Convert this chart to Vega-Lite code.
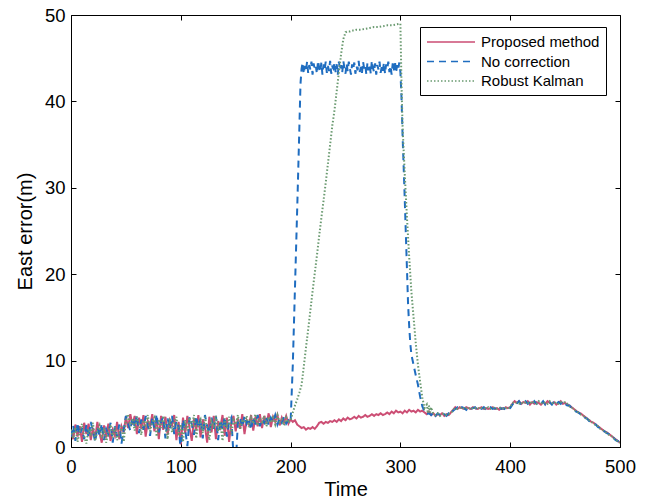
{
  "$schema": "https://vega.github.io/schema/vega-lite/v6.json",
  "width": 549,
  "height": 432,
  "autosize": {"type": "none"},
  "padding": {"left": 71, "top": 15, "right": 28, "bottom": 53},
  "background": "white",
  "config": {
    "view": {"stroke": "black", "strokeWidth": 1},
    "font": "Liberation Sans",
    "axis": {"grid": false, "domainColor": "black", "tickColor": "black", "labelColor": "black", "titleColor": "black", "labelFont": "Liberation Sans", "titleFont": "Liberation Sans", "labelFontSize": 18.5, "titleFontSize": 20, "titleFontWeight": "normal", "tickSize": -5, "labelFlush": false, "labelOverlap": false}
  },
  "data": {"values": [
    {"s":"Proposed method","t":0,"v":1.8},{"s":"Proposed method","t":2,"v":0.9},{"s":"Proposed method","t":4,"v":2.6},{"s":"Proposed method","t":6,"v":1.2},{"s":"Proposed method","t":8,"v":2.4},{"s":"Proposed method","t":10,"v":0.6},{"s":"Proposed method","t":12,"v":2.8},{"s":"Proposed method","t":14,"v":1.5},{"s":"Proposed method","t":16,"v":2.7},{"s":"Proposed method","t":18,"v":0.8},{"s":"Proposed method","t":20,"v":2.2},{"s":"Proposed method","t":22,"v":1.0},{"s":"Proposed method","t":24,"v":2.9},{"s":"Proposed method","t":26,"v":1.6},{"s":"Proposed method","t":28,"v":0.5},{"s":"Proposed method","t":30,"v":2.5},{"s":"Proposed method","t":32,"v":1.1},{"s":"Proposed method","t":34,"v":2.7},{"s":"Proposed method","t":36,"v":0.7},{"s":"Proposed method","t":38,"v":2.0},{"s":"Proposed method","t":40,"v":1.3},{"s":"Proposed method","t":42,"v":2.9},{"s":"Proposed method","t":44,"v":0.9},{"s":"Proposed method","t":46,"v":2.4},{"s":"Proposed method","t":48,"v":1.7},{"s":"Proposed method","t":50,"v":3.5},{"s":"Proposed method","t":52,"v":2.2},{"s":"Proposed method","t":54,"v":3.8},{"s":"Proposed method","t":56,"v":2.6},{"s":"Proposed method","t":58,"v":3.6},{"s":"Proposed method","t":60,"v":1.5},{"s":"Proposed method","t":62,"v":3.4},{"s":"Proposed method","t":64,"v":2.1},{"s":"Proposed method","t":66,"v":3.7},{"s":"Proposed method","t":68,"v":1.2},{"s":"Proposed method","t":70,"v":3.0},{"s":"Proposed method","t":72,"v":2.4},{"s":"Proposed method","t":74,"v":3.8},{"s":"Proposed method","t":76,"v":1.8},{"s":"Proposed method","t":78,"v":3.3},{"s":"Proposed method","t":80,"v":0.9},{"s":"Proposed method","t":82,"v":3.6},{"s":"Proposed method","t":84,"v":2.0},{"s":"Proposed method","t":86,"v":3.5},{"s":"Proposed method","t":88,"v":1.4},{"s":"Proposed method","t":90,"v":3.1},{"s":"Proposed method","t":92,"v":2.5},{"s":"Proposed method","t":94,"v":3.7},{"s":"Proposed method","t":96,"v":0.8},{"s":"Proposed method","t":98,"v":2.9},{"s":"Proposed method","t":100,"v":0.3},{"s":"Proposed method","t":102,"v":3.4},{"s":"Proposed method","t":104,"v":1.6},{"s":"Proposed method","t":106,"v":3.6},{"s":"Proposed method","t":108,"v":2.2},{"s":"Proposed method","t":110,"v":0.7},{"s":"Proposed method","t":112,"v":3.3},{"s":"Proposed method","t":114,"v":1.9},{"s":"Proposed method","t":116,"v":3.7},{"s":"Proposed method","t":118,"v":1.1},{"s":"Proposed method","t":120,"v":3.2},{"s":"Proposed method","t":122,"v":2.4},{"s":"Proposed method","t":124,"v":0.5},{"s":"Proposed method","t":126,"v":3.5},{"s":"Proposed method","t":128,"v":1.7},{"s":"Proposed method","t":130,"v":3.6},{"s":"Proposed method","t":132,"v":0.9},{"s":"Proposed method","t":134,"v":3.0},{"s":"Proposed method","t":136,"v":2.3},{"s":"Proposed method","t":138,"v":3.7},{"s":"Proposed method","t":140,"v":1.3},{"s":"Proposed method","t":142,"v":3.4},{"s":"Proposed method","t":144,"v":0.6},{"s":"Proposed method","t":146,"v":2.8},{"s":"Proposed method","t":148,"v":3.6},{"s":"Proposed method","t":150,"v":1.8},{"s":"Proposed method","t":152,"v":3.3},{"s":"Proposed method","t":154,"v":2.1},{"s":"Proposed method","t":156,"v":3.8},{"s":"Proposed method","t":158,"v":1.5},{"s":"Proposed method","t":160,"v":3.1},{"s":"Proposed method","t":162,"v":2.6},{"s":"Proposed method","t":164,"v":3.7},{"s":"Proposed method","t":166,"v":1.9},{"s":"Proposed method","t":168,"v":3.5},{"s":"Proposed method","t":170,"v":2.4},{"s":"Proposed method","t":172,"v":3.8},{"s":"Proposed method","t":174,"v":2.2},{"s":"Proposed method","t":176,"v":3.6},{"s":"Proposed method","t":178,"v":2.7},{"s":"Proposed method","t":180,"v":3.9},{"s":"Proposed method","t":182,"v":2.3},{"s":"Proposed method","t":184,"v":3.5},{"s":"Proposed method","t":186,"v":2.9},{"s":"Proposed method","t":188,"v":3.7},{"s":"Proposed method","t":190,"v":2.5},{"s":"Proposed method","t":192,"v":3.4},{"s":"Proposed method","t":194,"v":2.8},{"s":"Proposed method","t":196,"v":3.6},{"s":"Proposed method","t":198,"v":2.7},{"s":"Proposed method","t":200,"v":3.2},
    {"s":"Proposed method","t":202,"v":2.9},{"s":"Proposed method","t":204,"v":3.1},{"s":"Proposed method","t":206,"v":2.6},{"s":"Proposed method","t":208,"v":2.4},{"s":"Proposed method","t":210,"v":2.2},{"s":"Proposed method","t":212,"v":2.3},{"s":"Proposed method","t":214,"v":2.0},{"s":"Proposed method","t":216,"v":2.2},{"s":"Proposed method","t":218,"v":2.1},{"s":"Proposed method","t":220,"v":2.3},{"s":"Proposed method","t":222,"v":2.1},{"s":"Proposed method","t":224,"v":2.4},{"s":"Proposed method","t":226,"v":2.8},{"s":"Proposed method","t":228,"v":2.9},{"s":"Proposed method","t":230,"v":2.7},{"s":"Proposed method","t":232,"v":2.9},{"s":"Proposed method","t":234,"v":2.8},{"s":"Proposed method","t":236,"v":3.0},{"s":"Proposed method","t":238,"v":2.9},{"s":"Proposed method","t":240,"v":3.1},{"s":"Proposed method","t":242,"v":2.9},{"s":"Proposed method","t":244,"v":3.2},{"s":"Proposed method","t":246,"v":3.0},{"s":"Proposed method","t":248,"v":3.3},{"s":"Proposed method","t":250,"v":3.1},{"s":"Proposed method","t":252,"v":3.4},{"s":"Proposed method","t":254,"v":3.2},{"s":"Proposed method","t":256,"v":3.3},{"s":"Proposed method","t":258,"v":3.5},{"s":"Proposed method","t":260,"v":3.3},{"s":"Proposed method","t":262,"v":3.6},{"s":"Proposed method","t":264,"v":3.4},{"s":"Proposed method","t":266,"v":3.5},{"s":"Proposed method","t":268,"v":3.7},{"s":"Proposed method","t":270,"v":3.5},{"s":"Proposed method","t":272,"v":3.6},{"s":"Proposed method","t":274,"v":3.8},{"s":"Proposed method","t":276,"v":3.6},{"s":"Proposed method","t":278,"v":3.8},{"s":"Proposed method","t":280,"v":3.7},{"s":"Proposed method","t":282,"v":3.9},{"s":"Proposed method","t":284,"v":3.7},{"s":"Proposed method","t":286,"v":3.8},{"s":"Proposed method","t":288,"v":4.0},{"s":"Proposed method","t":290,"v":3.8},{"s":"Proposed method","t":292,"v":4.1},{"s":"Proposed method","t":294,"v":3.9},{"s":"Proposed method","t":296,"v":4.2},{"s":"Proposed method","t":298,"v":4.0},{"s":"Proposed method","t":300,"v":4.1},{"s":"Proposed method","t":302,"v":3.9},{"s":"Proposed method","t":304,"v":4.2},{"s":"Proposed method","t":306,"v":4.0},{"s":"Proposed method","t":308,"v":4.3},{"s":"Proposed method","t":310,"v":4.1},{"s":"Proposed method","t":312,"v":4.2},{"s":"Proposed method","t":314,"v":4.0},{"s":"Proposed method","t":316,"v":4.3},{"s":"Proposed method","t":318,"v":4.1},{"s":"Proposed method","t":320,"v":4.2},{"s":"Proposed method","t":322,"v":4.0},{"s":"Proposed method","t":324,"v":3.8},
    {"s":"Proposed method","t":326,"v":4.1},{"s":"Proposed method","t":328,"v":3.7},{"s":"Proposed method","t":330,"v":3.9},{"s":"Proposed method","t":332,"v":3.6},{"s":"Proposed method","t":334,"v":3.8},{"s":"Proposed method","t":336,"v":3.7},{"s":"Proposed method","t":338,"v":3.9},{"s":"Proposed method","t":340,"v":3.6},{"s":"Proposed method","t":342,"v":3.8},{"s":"Proposed method","t":344,"v":3.7},{"s":"Proposed method","t":346,"v":4.0},{"s":"Proposed method","t":348,"v":4.3},{"s":"Proposed method","t":350,"v":4.6},{"s":"Proposed method","t":352,"v":4.4},{"s":"Proposed method","t":354,"v":4.6},{"s":"Proposed method","t":356,"v":4.5},{"s":"Proposed method","t":358,"v":4.4},{"s":"Proposed method","t":360,"v":4.6},{"s":"Proposed method","t":362,"v":4.5},{"s":"Proposed method","t":364,"v":4.4},{"s":"Proposed method","t":366,"v":4.6},{"s":"Proposed method","t":368,"v":4.5},{"s":"Proposed method","t":370,"v":4.4},{"s":"Proposed method","t":372,"v":4.5},{"s":"Proposed method","t":374,"v":4.6},{"s":"Proposed method","t":376,"v":4.4},{"s":"Proposed method","t":378,"v":4.5},{"s":"Proposed method","t":380,"v":4.4},{"s":"Proposed method","t":382,"v":4.5},{"s":"Proposed method","t":384,"v":4.6},{"s":"Proposed method","t":386,"v":4.4},{"s":"Proposed method","t":388,"v":4.5},{"s":"Proposed method","t":390,"v":4.3},{"s":"Proposed method","t":392,"v":4.5},{"s":"Proposed method","t":394,"v":4.4},{"s":"Proposed method","t":396,"v":4.6},{"s":"Proposed method","t":398,"v":4.5},{"s":"Proposed method","t":400,"v":4.6},{"s":"Proposed method","t":402,"v":5.0},{"s":"Proposed method","t":404,"v":5.3},{"s":"Proposed method","t":406,"v":5.1},{"s":"Proposed method","t":408,"v":5.3},{"s":"Proposed method","t":410,"v":5.0},{"s":"Proposed method","t":412,"v":5.2},{"s":"Proposed method","t":414,"v":5.1},{"s":"Proposed method","t":416,"v":5.3},{"s":"Proposed method","t":418,"v":4.9},{"s":"Proposed method","t":420,"v":5.2},{"s":"Proposed method","t":422,"v":5.0},{"s":"Proposed method","t":424,"v":5.2},{"s":"Proposed method","t":426,"v":5.1},{"s":"Proposed method","t":428,"v":4.9},{"s":"Proposed method","t":430,"v":5.2},{"s":"Proposed method","t":432,"v":5.0},{"s":"Proposed method","t":434,"v":5.3},{"s":"Proposed method","t":436,"v":5.1},{"s":"Proposed method","t":438,"v":5.0},{"s":"Proposed method","t":440,"v":5.2},{"s":"Proposed method","t":442,"v":4.9},{"s":"Proposed method","t":444,"v":5.1},{"s":"Proposed method","t":446,"v":5.3},{"s":"Proposed method","t":448,"v":5.0},{"s":"Proposed method","t":450,"v":5.1},{"s":"Proposed method","t":452,"v":4.9},{"s":"Proposed method","t":454,"v":4.8},{"s":"Proposed method","t":456,"v":4.6},{"s":"Proposed method","t":458,"v":4.4},{"s":"Proposed method","t":460,"v":4.2},{"s":"Proposed method","t":462,"v":4.0},{"s":"Proposed method","t":464,"v":3.9},{"s":"Proposed method","t":466,"v":3.7},{"s":"Proposed method","t":468,"v":3.5},{"s":"Proposed method","t":470,"v":3.3},{"s":"Proposed method","t":472,"v":3.1},{"s":"Proposed method","t":474,"v":2.9},{"s":"Proposed method","t":476,"v":2.8},{"s":"Proposed method","t":478,"v":2.6},{"s":"Proposed method","t":480,"v":2.4},{"s":"Proposed method","t":482,"v":2.2},{"s":"Proposed method","t":484,"v":2.0},{"s":"Proposed method","t":486,"v":1.8},{"s":"Proposed method","t":488,"v":1.7},{"s":"Proposed method","t":490,"v":1.5},{"s":"Proposed method","t":492,"v":1.3},{"s":"Proposed method","t":494,"v":1.1},{"s":"Proposed method","t":496,"v":0.9},{"s":"Proposed method","t":498,"v":0.7},{"s":"Proposed method","t":500,"v":0.5},

    {"s":"No correction","t":0,"v":1.2},{"s":"No correction","t":2,"v":2.5},{"s":"No correction","t":4,"v":0.7},{"s":"No correction","t":6,"v":2.8},{"s":"No correction","t":8,"v":1.4},{"s":"No correction","t":10,"v":2.2},{"s":"No correction","t":12,"v":0.9},{"s":"No correction","t":14,"v":2.6},{"s":"No correction","t":16,"v":1.1},{"s":"No correction","t":18,"v":2.9},{"s":"No correction","t":20,"v":1.8},{"s":"No correction","t":22,"v":0.6},{"s":"No correction","t":24,"v":2.3},{"s":"No correction","t":26,"v":1.3},{"s":"No correction","t":28,"v":2.7},{"s":"No correction","t":30,"v":0.8},{"s":"No correction","t":32,"v":2.1},{"s":"No correction","t":34,"v":1.5},{"s":"No correction","t":36,"v":2.8},{"s":"No correction","t":38,"v":0.5},{"s":"No correction","t":40,"v":2.4},{"s":"No correction","t":42,"v":1.2},{"s":"No correction","t":44,"v":2.6},{"s":"No correction","t":46,"v":0.4},{"s":"No correction","t":48,"v":2.0},{"s":"No correction","t":50,"v":3.6},{"s":"No correction","t":52,"v":2.7},{"s":"No correction","t":54,"v":1.9},{"s":"No correction","t":56,"v":3.5},{"s":"No correction","t":58,"v":2.3},{"s":"No correction","t":60,"v":3.7},{"s":"No correction","t":62,"v":1.6},{"s":"No correction","t":64,"v":3.2},{"s":"No correction","t":66,"v":2.0},{"s":"No correction","t":68,"v":3.6},{"s":"No correction","t":70,"v":2.5},{"s":"No correction","t":72,"v":1.3},{"s":"No correction","t":74,"v":3.4},{"s":"No correction","t":76,"v":2.2},{"s":"No correction","t":78,"v":3.8},{"s":"No correction","t":80,"v":1.7},{"s":"No correction","t":82,"v":2.9},{"s":"No correction","t":84,"v":3.5},{"s":"No correction","t":86,"v":1.0},{"s":"No correction","t":88,"v":3.3},{"s":"No correction","t":90,"v":2.1},{"s":"No correction","t":92,"v":3.6},{"s":"No correction","t":94,"v":1.5},{"s":"No correction","t":96,"v":3.0},{"s":"No correction","t":98,"v":2.4},{"s":"No correction","t":100,"v":-0.5},{"s":"No correction","t":102,"v":3.2},{"s":"No correction","t":104,"v":2.0},{"s":"No correction","t":106,"v":0.1},{"s":"No correction","t":108,"v":3.5},{"s":"No correction","t":110,"v":2.6},{"s":"No correction","t":112,"v":1.4},{"s":"No correction","t":114,"v":3.6},{"s":"No correction","t":116,"v":2.2},{"s":"No correction","t":118,"v":3.3},{"s":"No correction","t":120,"v":1.0},{"s":"No correction","t":122,"v":3.7},{"s":"No correction","t":124,"v":2.4},{"s":"No correction","t":126,"v":1.6},{"s":"No correction","t":128,"v":3.4},{"s":"No correction","t":130,"v":2.1},{"s":"No correction","t":132,"v":3.6},{"s":"No correction","t":134,"v":0.8},{"s":"No correction","t":136,"v":3.1},{"s":"No correction","t":138,"v":2.0},{"s":"No correction","t":140,"v":3.5},{"s":"No correction","t":142,"v":1.2},{"s":"No correction","t":144,"v":2.9},{"s":"No correction","t":146,"v":3.4},{"s":"No correction","t":148,"v":-1.0},{"s":"No correction","t":150,"v":-2.0},{"s":"No correction","t":152,"v":2.8},{"s":"No correction","t":154,"v":3.4},{"s":"No correction","t":156,"v":2.3},{"s":"No correction","t":158,"v":3.6},{"s":"No correction","t":160,"v":2.7},{"s":"No correction","t":162,"v":3.3},{"s":"No correction","t":164,"v":2.0},{"s":"No correction","t":166,"v":3.5},{"s":"No correction","t":168,"v":2.6},{"s":"No correction","t":170,"v":3.7},{"s":"No correction","t":172,"v":2.4},{"s":"No correction","t":174,"v":3.2},{"s":"No correction","t":176,"v":2.8},{"s":"No correction","t":178,"v":3.6},{"s":"No correction","t":180,"v":2.5},{"s":"No correction","t":182,"v":3.4},{"s":"No correction","t":184,"v":2.9},{"s":"No correction","t":186,"v":3.7},{"s":"No correction","t":188,"v":2.6},{"s":"No correction","t":190,"v":3.3},{"s":"No correction","t":192,"v":2.8},{"s":"No correction","t":194,"v":3.5},{"s":"No correction","t":196,"v":2.7},{"s":"No correction","t":198,"v":3.1},{"s":"No correction","t":200,"v":2.9},
    {"s":"No correction","t":202,"v":9.5},{"s":"No correction","t":204,"v":18.5},{"s":"No correction","t":206,"v":27.5},{"s":"No correction","t":208,"v":37},{"s":"No correction","t":209,"v":42},
    {"s":"No correction","t":210,"v":43.8},{"s":"No correction","t":211,"v":44.5},{"s":"No correction","t":212,"v":43.2},{"s":"No correction","t":213,"v":44.1},{"s":"No correction","t":214,"v":43.5},{"s":"No correction","t":215,"v":44.6},{"s":"No correction","t":216,"v":43.3},{"s":"No correction","t":217,"v":44.2},{"s":"No correction","t":218,"v":43.7},{"s":"No correction","t":219,"v":44.6},{"s":"No correction","t":220,"v":43.1},{"s":"No correction","t":221,"v":44.4},{"s":"No correction","t":222,"v":43.6},{"s":"No correction","t":223,"v":44.0},{"s":"No correction","t":224,"v":43.2},{"s":"No correction","t":225,"v":44.7},{"s":"No correction","t":226,"v":43.9},{"s":"No correction","t":227,"v":43.4},{"s":"No correction","t":228,"v":44.5},{"s":"No correction","t":229,"v":43.1},{"s":"No correction","t":230,"v":44.3},{"s":"No correction","t":231,"v":43.7},{"s":"No correction","t":232,"v":44.6},{"s":"No correction","t":233,"v":43.3},{"s":"No correction","t":234,"v":44.1},{"s":"No correction","t":235,"v":43.5},{"s":"No correction","t":236,"v":44.7},{"s":"No correction","t":237,"v":43.2},{"s":"No correction","t":238,"v":44.0},{"s":"No correction","t":239,"v":43.8},{"s":"No correction","t":240,"v":44.5},{"s":"No correction","t":241,"v":43.4},{"s":"No correction","t":242,"v":44.3},{"s":"No correction","t":243,"v":43.1},{"s":"No correction","t":244,"v":44.6},{"s":"No correction","t":245,"v":43.6},{"s":"No correction","t":246,"v":44.2},{"s":"No correction","t":247,"v":43.3},{"s":"No correction","t":248,"v":44.7},{"s":"No correction","t":249,"v":43.9},{"s":"No correction","t":250,"v":43.2},{"s":"No correction","t":251,"v":44.4},{"s":"No correction","t":252,"v":43.5},{"s":"No correction","t":253,"v":44.6},{"s":"No correction","t":254,"v":43.8},{"s":"No correction","t":255,"v":43.1},{"s":"No correction","t":256,"v":44.3},{"s":"No correction","t":257,"v":43.7},{"s":"No correction","t":258,"v":44.5},{"s":"No correction","t":259,"v":43.2},{"s":"No correction","t":260,"v":44.1},{"s":"No correction","t":261,"v":43.6},{"s":"No correction","t":262,"v":44.7},{"s":"No correction","t":263,"v":43.4},{"s":"No correction","t":264,"v":44.0},{"s":"No correction","t":265,"v":43.3},{"s":"No correction","t":266,"v":44.6},{"s":"No correction","t":267,"v":43.8},{"s":"No correction","t":268,"v":44.2},{"s":"No correction","t":269,"v":43.1},{"s":"No correction","t":270,"v":44.5},{"s":"No correction","t":271,"v":43.6},{"s":"No correction","t":272,"v":44.3},{"s":"No correction","t":273,"v":43.2},{"s":"No correction","t":274,"v":44.7},{"s":"No correction","t":275,"v":43.9},{"s":"No correction","t":276,"v":43.4},{"s":"No correction","t":277,"v":44.4},{"s":"No correction","t":278,"v":43.1},{"s":"No correction","t":279,"v":44.2},{"s":"No correction","t":280,"v":43.7},{"s":"No correction","t":281,"v":44.6},{"s":"No correction","t":282,"v":43.3},{"s":"No correction","t":283,"v":44.0},{"s":"No correction","t":284,"v":43.5},{"s":"No correction","t":285,"v":44.5},{"s":"No correction","t":286,"v":43.2},{"s":"No correction","t":287,"v":44.3},{"s":"No correction","t":288,"v":43.8},{"s":"No correction","t":289,"v":44.6},{"s":"No correction","t":290,"v":43.4},{"s":"No correction","t":291,"v":44.1},{"s":"No correction","t":292,"v":43.1},{"s":"No correction","t":293,"v":44.4},{"s":"No correction","t":294,"v":43.6},{"s":"No correction","t":295,"v":44.7},{"s":"No correction","t":296,"v":43.3},{"s":"No correction","t":297,"v":44.2},{"s":"No correction","t":298,"v":43.7},{"s":"No correction","t":299,"v":44.5},{"s":"No correction","t":300,"v":43.4},
    {"s":"No correction","t":301,"v":40.5},{"s":"No correction","t":302,"v":36},{"s":"No correction","t":303,"v":32.3},{"s":"No correction","t":304,"v":28.5},{"s":"No correction","t":305,"v":24.5},{"s":"No correction","t":306,"v":20.5},{"s":"No correction","t":307,"v":16.5},{"s":"No correction","t":308,"v":14},{"s":"No correction","t":309,"v":12},{"s":"No correction","t":310,"v":10.7},{"s":"No correction","t":312,"v":9.5},{"s":"No correction","t":314,"v":8.3},{"s":"No correction","t":316,"v":7.2},{"s":"No correction","t":318,"v":5.8},{"s":"No correction","t":320,"v":4.7},{"s":"No correction","t":322,"v":4.1},{"s":"No correction","t":324,"v":3.8},
    {"s":"No correction","t":326,"v":3.9},{"s":"No correction","t":328,"v":3.7},{"s":"No correction","t":330,"v":4.0},{"s":"No correction","t":332,"v":3.6},{"s":"No correction","t":334,"v":3.9},{"s":"No correction","t":336,"v":3.7},{"s":"No correction","t":338,"v":4.0},{"s":"No correction","t":340,"v":3.8},{"s":"No correction","t":342,"v":3.6},{"s":"No correction","t":344,"v":3.9},{"s":"No correction","t":346,"v":3.8},{"s":"No correction","t":348,"v":4.2},{"s":"No correction","t":350,"v":4.4},{"s":"No correction","t":352,"v":4.6},{"s":"No correction","t":354,"v":4.4},{"s":"No correction","t":356,"v":4.6},{"s":"No correction","t":358,"v":4.5},{"s":"No correction","t":360,"v":4.3},{"s":"No correction","t":362,"v":4.6},{"s":"No correction","t":364,"v":4.4},{"s":"No correction","t":366,"v":4.5},{"s":"No correction","t":368,"v":4.6},{"s":"No correction","t":370,"v":4.3},{"s":"No correction","t":372,"v":4.5},{"s":"No correction","t":374,"v":4.4},{"s":"No correction","t":376,"v":4.6},{"s":"No correction","t":378,"v":4.3},{"s":"No correction","t":380,"v":4.5},{"s":"No correction","t":382,"v":4.6},{"s":"No correction","t":384,"v":4.4},{"s":"No correction","t":386,"v":4.5},{"s":"No correction","t":388,"v":4.3},{"s":"No correction","t":390,"v":4.6},{"s":"No correction","t":392,"v":4.4},{"s":"No correction","t":394,"v":4.5},{"s":"No correction","t":396,"v":4.3},{"s":"No correction","t":398,"v":4.6},{"s":"No correction","t":400,"v":4.5},{"s":"No correction","t":402,"v":4.9},{"s":"No correction","t":404,"v":5.2},{"s":"No correction","t":406,"v":5.0},{"s":"No correction","t":408,"v":5.3},{"s":"No correction","t":410,"v":4.9},{"s":"No correction","t":412,"v":5.1},{"s":"No correction","t":414,"v":5.3},{"s":"No correction","t":416,"v":5.0},{"s":"No correction","t":418,"v":5.2},{"s":"No correction","t":420,"v":4.9},{"s":"No correction","t":422,"v":5.3},{"s":"No correction","t":424,"v":5.0},{"s":"No correction","t":426,"v":5.2},{"s":"No correction","t":428,"v":5.0},{"s":"No correction","t":430,"v":5.3},{"s":"No correction","t":432,"v":4.9},{"s":"No correction","t":434,"v":5.1},{"s":"No correction","t":436,"v":5.2},{"s":"No correction","t":438,"v":4.9},{"s":"No correction","t":440,"v":5.3},{"s":"No correction","t":442,"v":5.0},{"s":"No correction","t":444,"v":5.2},{"s":"No correction","t":446,"v":5.0},{"s":"No correction","t":448,"v":5.3},{"s":"No correction","t":450,"v":5.0},{"s":"No correction","t":452,"v":4.8},{"s":"No correction","t":454,"v":4.8},{"s":"No correction","t":456,"v":4.5},{"s":"No correction","t":458,"v":4.4},{"s":"No correction","t":460,"v":4.1},{"s":"No correction","t":462,"v":4.0},{"s":"No correction","t":464,"v":3.8},{"s":"No correction","t":466,"v":3.7},{"s":"No correction","t":468,"v":3.4},{"s":"No correction","t":470,"v":3.3},{"s":"No correction","t":472,"v":3.0},{"s":"No correction","t":474,"v":2.9},{"s":"No correction","t":476,"v":2.7},{"s":"No correction","t":478,"v":2.6},{"s":"No correction","t":480,"v":2.3},{"s":"No correction","t":482,"v":2.2},{"s":"No correction","t":484,"v":1.9},{"s":"No correction","t":486,"v":1.8},{"s":"No correction","t":488,"v":1.6},{"s":"No correction","t":490,"v":1.5},{"s":"No correction","t":492,"v":1.2},{"s":"No correction","t":494,"v":1.1},{"s":"No correction","t":496,"v":0.8},{"s":"No correction","t":498,"v":0.7},{"s":"No correction","t":500,"v":0.4},

    {"s":"Robust Kalman","t":0,"v":2.0},{"s":"Robust Kalman","t":2,"v":1.0},{"s":"Robust Kalman","t":4,"v":2.3},{"s":"Robust Kalman","t":6,"v":0.6},{"s":"Robust Kalman","t":8,"v":1.8},{"s":"Robust Kalman","t":10,"v":2.7},{"s":"Robust Kalman","t":12,"v":1.2},{"s":"Robust Kalman","t":14,"v":0.4},{"s":"Robust Kalman","t":16,"v":2.1},{"s":"Robust Kalman","t":18,"v":1.5},{"s":"Robust Kalman","t":20,"v":2.8},{"s":"Robust Kalman","t":22,"v":0.7},{"s":"Robust Kalman","t":24,"v":1.9},{"s":"Robust Kalman","t":26,"v":2.5},{"s":"Robust Kalman","t":28,"v":1.0},{"s":"Robust Kalman","t":30,"v":2.2},{"s":"Robust Kalman","t":32,"v":0.5},{"s":"Robust Kalman","t":34,"v":1.7},{"s":"Robust Kalman","t":36,"v":2.6},{"s":"Robust Kalman","t":38,"v":1.1},{"s":"Robust Kalman","t":40,"v":2.3},{"s":"Robust Kalman","t":42,"v":0.8},{"s":"Robust Kalman","t":44,"v":1.6},{"s":"Robust Kalman","t":46,"v":2.4},{"s":"Robust Kalman","t":48,"v":0.6},{"s":"Robust Kalman","t":50,"v":3.0},{"s":"Robust Kalman","t":52,"v":3.8},{"s":"Robust Kalman","t":54,"v":2.4},{"s":"Robust Kalman","t":56,"v":3.3},{"s":"Robust Kalman","t":58,"v":1.9},{"s":"Robust Kalman","t":60,"v":3.5},{"s":"Robust Kalman","t":62,"v":2.7},{"s":"Robust Kalman","t":64,"v":1.4},{"s":"Robust Kalman","t":66,"v":3.1},{"s":"Robust Kalman","t":68,"v":2.5},{"s":"Robust Kalman","t":70,"v":3.7},{"s":"Robust Kalman","t":72,"v":1.8},{"s":"Robust Kalman","t":74,"v":2.9},{"s":"Robust Kalman","t":76,"v":3.4},{"s":"Robust Kalman","t":78,"v":1.2},{"s":"Robust Kalman","t":80,"v":3.2},{"s":"Robust Kalman","t":82,"v":2.2},{"s":"Robust Kalman","t":84,"v":3.6},{"s":"Robust Kalman","t":86,"v":2.4},{"s":"Robust Kalman","t":88,"v":0.9},{"s":"Robust Kalman","t":90,"v":3.3},{"s":"Robust Kalman","t":92,"v":1.7},{"s":"Robust Kalman","t":94,"v":2.8},{"s":"Robust Kalman","t":96,"v":3.5},{"s":"Robust Kalman","t":98,"v":1.3},{"s":"Robust Kalman","t":100,"v":2.6},{"s":"Robust Kalman","t":102,"v":0.6},{"s":"Robust Kalman","t":104,"v":3.1},{"s":"Robust Kalman","t":106,"v":1.9},{"s":"Robust Kalman","t":108,"v":3.4},{"s":"Robust Kalman","t":110,"v":2.3},{"s":"Robust Kalman","t":112,"v":3.7},{"s":"Robust Kalman","t":114,"v":1.0},{"s":"Robust Kalman","t":116,"v":2.7},{"s":"Robust Kalman","t":118,"v":3.2},{"s":"Robust Kalman","t":120,"v":1.6},{"s":"Robust Kalman","t":122,"v":3.5},{"s":"Robust Kalman","t":124,"v":2.1},{"s":"Robust Kalman","t":126,"v":0.8},{"s":"Robust Kalman","t":128,"v":3.0},{"s":"Robust Kalman","t":130,"v":2.4},{"s":"Robust Kalman","t":132,"v":3.6},{"s":"Robust Kalman","t":134,"v":1.8},{"s":"Robust Kalman","t":136,"v":2.9},{"s":"Robust Kalman","t":138,"v":0.7},{"s":"Robust Kalman","t":140,"v":3.3},{"s":"Robust Kalman","t":142,"v":2.2},{"s":"Robust Kalman","t":144,"v":3.5},{"s":"Robust Kalman","t":146,"v":1.5},{"s":"Robust Kalman","t":148,"v":3.1},{"s":"Robust Kalman","t":150,"v":2.6},{"s":"Robust Kalman","t":152,"v":3.7},{"s":"Robust Kalman","t":154,"v":2.0},{"s":"Robust Kalman","t":156,"v":3.2},{"s":"Robust Kalman","t":158,"v":2.8},{"s":"Robust Kalman","t":160,"v":3.6},{"s":"Robust Kalman","t":162,"v":2.3},{"s":"Robust Kalman","t":164,"v":3.4},{"s":"Robust Kalman","t":166,"v":2.7},{"s":"Robust Kalman","t":168,"v":3.8},{"s":"Robust Kalman","t":170,"v":2.5},{"s":"Robust Kalman","t":172,"v":3.3},{"s":"Robust Kalman","t":174,"v":2.9},{"s":"Robust Kalman","t":176,"v":3.6},{"s":"Robust Kalman","t":178,"v":2.4},{"s":"Robust Kalman","t":180,"v":3.5},{"s":"Robust Kalman","t":182,"v":2.8},{"s":"Robust Kalman","t":184,"v":3.4},{"s":"Robust Kalman","t":186,"v":2.6},{"s":"Robust Kalman","t":188,"v":3.7},{"s":"Robust Kalman","t":190,"v":2.9},{"s":"Robust Kalman","t":192,"v":3.2},{"s":"Robust Kalman","t":194,"v":2.5},{"s":"Robust Kalman","t":196,"v":3.4},{"s":"Robust Kalman","t":198,"v":2.8},{"s":"Robust Kalman","t":200,"v":3.1},
    {"s":"Robust Kalman","t":202,"v":4.0},{"s":"Robust Kalman","t":204,"v":4.8},{"s":"Robust Kalman","t":206,"v":5.5},{"s":"Robust Kalman","t":208,"v":6.3},{"s":"Robust Kalman","t":210,"v":7.2},{"s":"Robust Kalman","t":212,"v":9.3},{"s":"Robust Kalman","t":214,"v":11.5},{"s":"Robust Kalman","t":216,"v":13.6},{"s":"Robust Kalman","t":218,"v":15.8},{"s":"Robust Kalman","t":220,"v":18},{"s":"Robust Kalman","t":222,"v":20.1},{"s":"Robust Kalman","t":224,"v":22.2},{"s":"Robust Kalman","t":226,"v":24.4},{"s":"Robust Kalman","t":228,"v":26.5},{"s":"Robust Kalman","t":230,"v":28.5},{"s":"Robust Kalman","t":232,"v":30.6},{"s":"Robust Kalman","t":234,"v":32.8},{"s":"Robust Kalman","t":236,"v":35},{"s":"Robust Kalman","t":238,"v":37.2},{"s":"Robust Kalman","t":240,"v":39},{"s":"Robust Kalman","t":242,"v":41.2},{"s":"Robust Kalman","t":244,"v":43.4},{"s":"Robust Kalman","t":246,"v":45.5},{"s":"Robust Kalman","t":248,"v":47.2},{"s":"Robust Kalman","t":250,"v":48.0},{"s":"Robust Kalman","t":252,"v":48.1},{"s":"Robust Kalman","t":254,"v":48.1},{"s":"Robust Kalman","t":256,"v":48.2},{"s":"Robust Kalman","t":258,"v":48.2},{"s":"Robust Kalman","t":260,"v":48.3},{"s":"Robust Kalman","t":264,"v":48.3},{"s":"Robust Kalman","t":268,"v":48.4},{"s":"Robust Kalman","t":272,"v":48.5},{"s":"Robust Kalman","t":276,"v":48.6},{"s":"Robust Kalman","t":280,"v":48.6},{"s":"Robust Kalman","t":284,"v":48.7},{"s":"Robust Kalman","t":288,"v":48.8},{"s":"Robust Kalman","t":292,"v":48.8},{"s":"Robust Kalman","t":296,"v":48.9},{"s":"Robust Kalman","t":300,"v":49.0},
    {"s":"Robust Kalman","t":301,"v":42},{"s":"Robust Kalman","t":302,"v":37},{"s":"Robust Kalman","t":304,"v":31.5},{"s":"Robust Kalman","t":306,"v":26.5},{"s":"Robust Kalman","t":308,"v":22},{"s":"Robust Kalman","t":310,"v":18},{"s":"Robust Kalman","t":312,"v":15},{"s":"Robust Kalman","t":314,"v":12},{"s":"Robust Kalman","t":316,"v":9.5},{"s":"Robust Kalman","t":318,"v":7.5},{"s":"Robust Kalman","t":320,"v":5.7},{"s":"Robust Kalman","t":322,"v":4.5},{"s":"Robust Kalman","t":324,"v":4.9},{"s":"Robust Kalman","t":325,"v":3.9},{"s":"Robust Kalman","t":326,"v":4.8},{"s":"Robust Kalman","t":327,"v":4.0},{"s":"Robust Kalman","t":328,"v":4.6},
    {"s":"Robust Kalman","t":330,"v":3.8},{"s":"Robust Kalman","t":332,"v":3.7},{"s":"Robust Kalman","t":334,"v":3.9},{"s":"Robust Kalman","t":336,"v":3.6},{"s":"Robust Kalman","t":338,"v":3.8},{"s":"Robust Kalman","t":340,"v":3.9},{"s":"Robust Kalman","t":342,"v":3.7},{"s":"Robust Kalman","t":344,"v":3.8},{"s":"Robust Kalman","t":346,"v":3.9},{"s":"Robust Kalman","t":348,"v":4.3},{"s":"Robust Kalman","t":350,"v":4.5},{"s":"Robust Kalman","t":352,"v":4.4},{"s":"Robust Kalman","t":354,"v":4.5},{"s":"Robust Kalman","t":356,"v":4.6},{"s":"Robust Kalman","t":358,"v":4.4},{"s":"Robust Kalman","t":360,"v":4.5},{"s":"Robust Kalman","t":362,"v":4.4},{"s":"Robust Kalman","t":364,"v":4.6},{"s":"Robust Kalman","t":366,"v":4.4},{"s":"Robust Kalman","t":368,"v":4.5},{"s":"Robust Kalman","t":370,"v":4.6},{"s":"Robust Kalman","t":372,"v":4.4},{"s":"Robust Kalman","t":374,"v":4.5},{"s":"Robust Kalman","t":376,"v":4.5},{"s":"Robust Kalman","t":378,"v":4.4},{"s":"Robust Kalman","t":380,"v":4.6},{"s":"Robust Kalman","t":382,"v":4.4},{"s":"Robust Kalman","t":384,"v":4.5},{"s":"Robust Kalman","t":386,"v":4.6},{"s":"Robust Kalman","t":388,"v":4.4},{"s":"Robust Kalman","t":390,"v":4.5},{"s":"Robust Kalman","t":392,"v":4.6},{"s":"Robust Kalman","t":394,"v":4.4},{"s":"Robust Kalman","t":396,"v":4.5},{"s":"Robust Kalman","t":398,"v":4.4},{"s":"Robust Kalman","t":400,"v":4.6},{"s":"Robust Kalman","t":402,"v":5.1},{"s":"Robust Kalman","t":404,"v":5.2},{"s":"Robust Kalman","t":406,"v":5.1},{"s":"Robust Kalman","t":408,"v":5.0},{"s":"Robust Kalman","t":410,"v":5.2},{"s":"Robust Kalman","t":412,"v":5.0},{"s":"Robust Kalman","t":414,"v":5.2},{"s":"Robust Kalman","t":416,"v":5.1},{"s":"Robust Kalman","t":418,"v":5.0},{"s":"Robust Kalman","t":420,"v":5.3},{"s":"Robust Kalman","t":422,"v":5.1},{"s":"Robust Kalman","t":424,"v":5.0},{"s":"Robust Kalman","t":426,"v":5.3},{"s":"Robust Kalman","t":428,"v":5.1},{"s":"Robust Kalman","t":430,"v":5.0},{"s":"Robust Kalman","t":432,"v":5.2},{"s":"Robust Kalman","t":434,"v":5.0},{"s":"Robust Kalman","t":436,"v":5.3},{"s":"Robust Kalman","t":438,"v":5.1},{"s":"Robust Kalman","t":440,"v":5.0},{"s":"Robust Kalman","t":442,"v":5.2},{"s":"Robust Kalman","t":444,"v":5.0},{"s":"Robust Kalman","t":446,"v":5.2},{"s":"Robust Kalman","t":448,"v":5.1},{"s":"Robust Kalman","t":450,"v":5.2},{"s":"Robust Kalman","t":452,"v":5.0},{"s":"Robust Kalman","t":454,"v":4.7},{"s":"Robust Kalman","t":456,"v":4.6},{"s":"Robust Kalman","t":458,"v":4.3},{"s":"Robust Kalman","t":460,"v":4.2},{"s":"Robust Kalman","t":462,"v":4.0},{"s":"Robust Kalman","t":464,"v":3.8},{"s":"Robust Kalman","t":466,"v":3.6},{"s":"Robust Kalman","t":468,"v":3.5},{"s":"Robust Kalman","t":470,"v":3.2},{"s":"Robust Kalman","t":472,"v":3.1},{"s":"Robust Kalman","t":474,"v":2.9},{"s":"Robust Kalman","t":476,"v":2.7},{"s":"Robust Kalman","t":478,"v":2.5},{"s":"Robust Kalman","t":480,"v":2.4},{"s":"Robust Kalman","t":482,"v":2.1},{"s":"Robust Kalman","t":484,"v":2.0},{"s":"Robust Kalman","t":486,"v":1.8},{"s":"Robust Kalman","t":488,"v":1.6},{"s":"Robust Kalman","t":490,"v":1.4},{"s":"Robust Kalman","t":492,"v":1.3},{"s":"Robust Kalman","t":494,"v":1.0},{"s":"Robust Kalman","t":496,"v":0.9},{"s":"Robust Kalman","t":498,"v":0.6},{"s":"Robust Kalman","t":500,"v":0.5}
  ]},
  "layer": [
    {
      "mark": {"type": "line", "clip": true, "strokeWidth": 2},
      "encoding": {
        "x": {"field": "t", "type": "quantitative", "title": "Time", "scale": {"domain": [0, 500], "nice": false}, "axis": {"values": [0, 100, 200, 300, 400, 500], "labelPadding": 15, "titlePadding": 4, "domain": false}},
        "y": {"field": "v", "type": "quantitative", "title": "East error(m)", "scale": {"domain": [0, 50], "nice": false}, "axis": {"values": [0, 10, 20, 30, 40, 50], "labelPadding": 11, "titlePadding": 9, "domain": false}},
        "color": {"field": "s", "type": "nominal", "sort": null, "scale": {"domain": ["Proposed method", "No correction", "Robust Kalman"], "range": ["#CC4E74", "#1F6DC0", "#6A9A70"]},
          "legend": {"title": null, "orient": "none", "legendX": 349, "legendY": 12, "fillColor": "white", "strokeColor": "black", "padding": 6, "symbolType": "M-1,0H5", "symbolSize": 256, "symbolStrokeWidth": 1.6, "labelFontSize": 15, "labelFont": "Liberation Sans", "labelColor": "black", "rowPadding": 2.5, "labelOffset": 37}},
        "strokeDash": {"field": "s", "type": "nominal", "sort": null, "scale": {"domain": ["Proposed method", "No correction", "Robust Kalman"], "range": [[1, 0], [7, 5], [1.5, 2]]},
          "legend": {"title": null, "orient": "none", "legendX": 349, "legendY": 12, "fillColor": "white", "strokeColor": "black", "padding": 6, "symbolType": "M-1,0H5", "symbolSize": 256, "symbolStrokeWidth": 1.6, "labelFontSize": 15, "labelFont": "Liberation Sans", "labelColor": "black", "rowPadding": 2.5, "labelOffset": 37}},
        "order": {"field": "t", "type": "quantitative"}
      }
    },
    {
      "mark": {"type": "point", "opacity": 0},
      "encoding": {
        "x": {"field": "t", "type": "quantitative", "axis": {"orient": "top", "labels": false, "title": null, "domain": false, "values": [0, 100, 200, 300, 400, 500]}},
        "y": {"field": "v", "type": "quantitative", "axis": {"orient": "right", "labels": false, "title": null, "domain": false, "values": [0, 10, 20, 30, 40, 50]}}
      }
    }
  ],
  "resolve": {"axis": {"x": "independent", "y": "independent"}}
}
